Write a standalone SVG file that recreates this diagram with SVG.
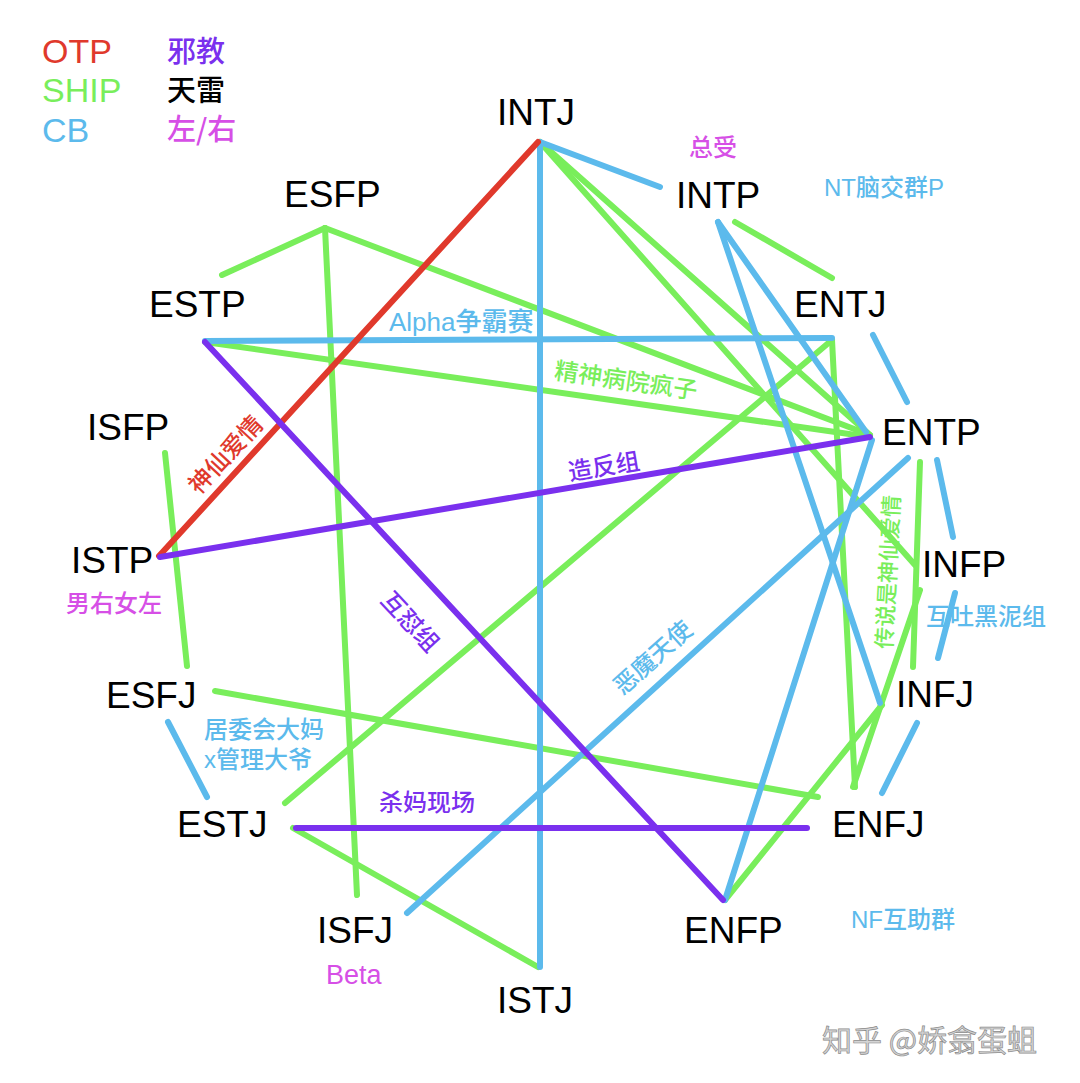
<svg xmlns="http://www.w3.org/2000/svg" width="1080" height="1083" viewBox="0 0 1080 1083">
<style>
.n{font-family:"Liberation Sans",Arial,sans-serif;font-size:37px;fill:#000}
.lg{font-family:"Liberation Sans","Noto Sans CJK SC",sans-serif;font-size:34px}
.lc{font-family:"Noto Sans CJK SC",sans-serif;font-size:29px;font-weight:500}
.t{font-family:"Liberation Sans","Noto Sans CJK SC",sans-serif;font-size:24px;font-weight:500}
.c{stroke-width:6;stroke-linecap:round;fill:none}
.r{stroke:#e0392c}.g{stroke:#79ee5b}.b{stroke:#5cbaec}.p{stroke:#7a30ee}
.fr{fill:#e0392c}.fg{fill:#79ee5b}.fb{fill:#5cbaec}.fp{fill:#7a30ee}.fm{fill:#d64fe6}
</style>
<rect width="1080" height="1083" fill="#fff"/>
<g id="connectors">
<line class="c g" x1="325" y1="228" x2="222" y2="275"/>
<line class="c g" x1="325" y1="228" x2="357" y2="895"/>
<line class="c g" x1="325" y1="228" x2="870" y2="435"/>
<line class="c g" x1="205" y1="342" x2="870" y2="437"/>
<line class="c g" x1="540" y1="142" x2="870" y2="435"/>
<line class="c g" x1="540" y1="142" x2="915" y2="565"/>
<line class="c g" x1="735" y1="222" x2="832" y2="278"/>
<line class="c g" x1="832" y1="340" x2="285" y2="803"/>
<line class="c g" x1="832" y1="340" x2="855" y2="787"/>
<line class="c g" x1="920" y1="462" x2="913" y2="667"/>
<line class="c g" x1="920" y1="590" x2="853" y2="787"/>
<line class="c g" x1="882" y1="705" x2="725" y2="900"/>
<line class="c g" x1="165" y1="453" x2="187" y2="666"/>
<line class="c g" x1="215" y1="691" x2="818" y2="797"/>
<line class="c g" x1="293" y1="828" x2="538" y2="967"/>
<line class="c b" x1="540" y1="142" x2="660" y2="187"/>
<line class="c b" x1="540" y1="142" x2="540" y2="967"/>
<line class="c b" x1="205" y1="341" x2="832" y2="338"/>
<line class="c b" x1="718" y1="222" x2="866" y2="432"/>
<line class="c b" x1="718" y1="222" x2="880" y2="703"/>
<line class="c b" x1="872" y1="440" x2="725" y2="900"/>
<line class="c b" x1="908" y1="458" x2="407" y2="913"/>
<line class="c b" x1="873" y1="335" x2="907" y2="402"/>
<line class="c b" x1="937" y1="460" x2="953" y2="537"/>
<line class="c b" x1="955" y1="593" x2="938" y2="658"/>
<line class="c b" x1="917" y1="723" x2="882" y2="793"/>
<line class="c b" x1="168" y1="722" x2="207" y2="797"/>
<line class="c r" x1="538" y1="142" x2="159" y2="556"/>
<line class="c p" x1="160" y1="557" x2="870" y2="437"/>
<line class="c p" x1="205" y1="342" x2="723" y2="900"/>
<line class="c p" x1="296" y1="828" x2="807" y2="828"/>
</g>
<g id="legend">
<text class="lg fr" x="42" y="63">OTP</text>
<text class="lg fg" x="42" y="102">SHIP</text>
<text class="lg fb" x="42" y="142">CB</text>
<text class="lc fp" x="167" y="62">邪教</text>
<text class="lc" x="167" y="101" fill="#000">天雷</text>
<text class="lc fm" x="167" y="140">左/右</text>
</g>
<g id="edge-labels">
<text class="t fb" x="389" y="331" style="font-size:26px">Alpha争霸赛</text>
<text class="t fg" text-anchor="middle" transform="translate(626,381) rotate(8.2)" y="8">精神病院疯子</text>
<text class="t fp" text-anchor="middle" transform="translate(604,467) rotate(-9.5)" y="8">造反组</text>
<text class="t fr" text-anchor="middle" transform="translate(226,455) rotate(-47)" y="8">神仙爱情</text>
<text class="t fp" text-anchor="middle" transform="translate(410,622) rotate(47)" y="8">互怼组</text>
<text class="t fb" text-anchor="middle" transform="translate(653,658) rotate(-42)" y="8">恶魔天使</text>
<text class="t fg" text-anchor="middle" style="font-size:22px" transform="translate(888,572) rotate(-87)" y="8">传说是神仙爱情</text>
<text class="t fp" x="379" y="811">杀妈现场</text>
<text class="t fb" x="204" y="738">居委会大妈</text>
<text class="t fb" x="204" y="768">x管理大爷</text>
<text class="t fm" x="66" y="612">男右女左</text>
<text class="t fm" x="326" y="984" style="font-size:27px">Beta</text>
<text class="t fb" x="851" y="928">NF互助群</text>
<text class="t fb" x="824" y="196">NT脑交群P</text>
<text class="t fm" x="689" y="156">总受</text>
<text class="t fb" x="926" y="625">互吐黑泥组</text>
</g>
<g id="node-INTJ"><text class="n" x="497" y="125">INTJ</text></g>
<g id="node-INTP"><text class="n" x="676" y="208">INTP</text></g>
<g id="node-ESFP"><text class="n" x="284" y="207">ESFP</text></g>
<g id="node-ENTJ"><text class="n" x="794" y="317">ENTJ</text></g>
<g id="node-ESTP"><text class="n" x="149" y="317">ESTP</text></g>
<g id="node-ENTP"><text class="n" x="882" y="445">ENTP</text></g>
<g id="node-ISFP"><text class="n" x="87" y="440">ISFP</text></g>
<g id="node-ISTP"><text class="n" x="71" y="573">ISTP</text></g>
<g id="node-INFP"><text class="n" x="922" y="577">INFP</text></g>
<g id="node-INFJ"><text class="n" x="896" y="707">INFJ</text></g>
<g id="node-ESFJ"><text class="n" x="106" y="708">ESFJ</text></g>
<g id="node-ESTJ"><text class="n" x="177" y="837">ESTJ</text></g>
<g id="node-ENFJ"><text class="n" x="832" y="837">ENFJ</text></g>
<g id="node-ISFJ"><text class="n" x="317" y="943">ISFJ</text></g>
<g id="node-ENFP"><text class="n" x="684" y="943">ENFP</text></g>
<g id="node-ISTJ"><text class="n" x="497" y="1013">ISTJ</text></g>
<g id="watermark"><text x="822" y="1051" font-family="Noto Sans CJK SC,sans-serif" font-size="30" fill="#d4d4d4" stroke="#8c8c8c" stroke-width="0.7">知乎 @娇翕蛋蛆</text></g>
</svg>
